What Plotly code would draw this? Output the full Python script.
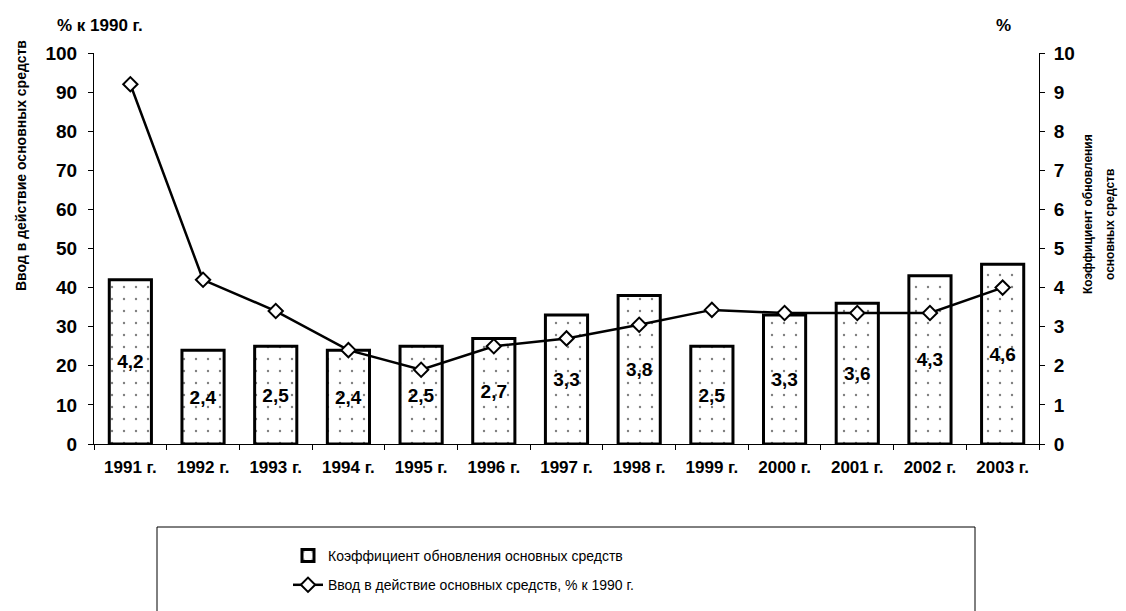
import plotly.graph_objects as go

years = ["1991 г.", "1992 г.", "1993 г.", "1994 г.", "1995 г.", "1996 г.", "1997 г.",
         "1998 г.", "1999 г.", "2000 г.", "2001 г.", "2002 г.", "2003 г."]
renewal_coef = [4.2, 2.4, 2.5, 2.4, 2.5, 2.7, 3.3, 3.8, 2.5, 3.3, 3.6, 4.3, 4.6]
commissioning_pct = [92, 42, 34, 24, 19, 25, 27, 30.5, 34.3, 33.5, 33.5, 33.5, 40]

bar_name = "Коэффициент обновления основных средств"
line_name = "Ввод в действие основных средств, % к 1990 г."

FONT = "Liberation Sans, Arial, sans-serif"

OFF = 8  # page body margin offset
W, H = 1126 - OFF, 611 - OFF
# target plot area in screenshot pixels
X0, X1, Y0, Y1 = 94, 1039, 53, 444
L = X0 - OFF
T = Y0 - OFF
pw, ph = X1 - X0, Y1 - Y0
R = W - L - pw
B = H - T - ph


def px(x):
    return (x - X0) / pw


def py(y):
    return (Y1 - y) / ph


fig = go.Figure()
fig.add_trace(go.Bar(
    x=years, y=renewal_coef, name=bar_name, yaxis="y", width=0.58,
    marker=dict(color="white", line=dict(color="black", width=3),
                pattern=dict(shape=".", fgcolor="black", bgcolor="white", size=12, solidity=0.03)),
    texttemplate="%{y:.1f}", textposition="inside", insidetextanchor="middle",
    textangle=0, constraintext="none",
    textfont=dict(family=FONT, size=19, color="black", weight="bold"),
    legendgroup="a",
))
fig.add_trace(go.Scatter(
    x=years, y=commissioning_pct, name=line_name, yaxis="y2", mode="lines+markers",
    line=dict(color="black", width=2.5),
    marker=dict(symbol="diamond", size=11, color="white", line=dict(color="black", width=2)),
    legendgroup="b",
))

axis_common = dict(showgrid=False, zeroline=False, showline=True, linecolor="black", linewidth=1,
                   ticks="outside", ticklen=5, tickcolor="black",
                   tickfont=dict(family=FONT, size=19, color="black", weight="bold"))

fig.update_layout(
    width=W, height=H,
    margin=dict(l=L, r=R, t=T, b=B, autoexpand=False),
    paper_bgcolor="white", plot_bgcolor="white",
    separators=", ",
    font=dict(family=FONT, color="black"),
    xaxis=dict(range=[-0.5, 12.5], showgrid=False, showline=True, linecolor="black", linewidth=1,
               ticks="outside", ticklen=5, tickcolor="black", tickson="boundaries",
               ticklabelstandoff=8,
               tickfont=dict(family=FONT, size=17, color="black", weight="bold")),
    yaxis=dict(side="right", range=[0, 10], dtick=1, ticklabelstandoff=5, **axis_common),
    yaxis2=dict(side="left", overlaying="y", range=[0, 100], dtick=10, ticklabelstandoff=7, **axis_common),
    showlegend=True,
    legend=dict(x=px(288), y=py(540), xanchor="left", yanchor="top",
                font=dict(family=FONT, size=14, color="black"),
                bgcolor="rgba(0,0,0,0)", borderwidth=0,
                traceorder="grouped", tracegroupgap=8),
    shapes=[dict(type="rect", xref="paper", yref="paper",
                 x0=px(157), x1=px(975), y0=py(625), y1=py(527),
                 line=dict(color="black", width=1), fillcolor="rgba(0,0,0,0)")],
    annotations=[
        dict(text="% к 1990 г.", x=px(100), y=py(25), xref="paper", yref="paper",
             xanchor="center", yanchor="middle", showarrow=False,
             font=dict(family=FONT, size=17, color="black", weight="bold")),
        dict(text="%", x=px(1003), y=py(25), xref="paper", yref="paper",
             xanchor="center", yanchor="middle", showarrow=False,
             font=dict(family=FONT, size=17, color="black", weight="bold")),
        dict(text="Ввод в действие основных средств", x=px(21), y=py(166), xref="paper", yref="paper",
             xanchor="center", yanchor="middle", textangle=-90, showarrow=False,
             font=dict(family=FONT, size=14, color="black", weight="bold")),
        dict(text="Коэффициент обновления", x=px(1088), y=py(214), xref="paper", yref="paper",
             xanchor="center", yanchor="middle", textangle=-90, showarrow=False,
             font=dict(family=FONT, size=12, color="black", weight="bold")),
        dict(text="основных средств", x=px(1110), y=py(225), xref="paper", yref="paper",
             xanchor="center", yanchor="middle", textangle=-90, showarrow=False,
             font=dict(family=FONT, size=12, color="black", weight="bold")),
    ],
)

fig.write_html("out.html")
